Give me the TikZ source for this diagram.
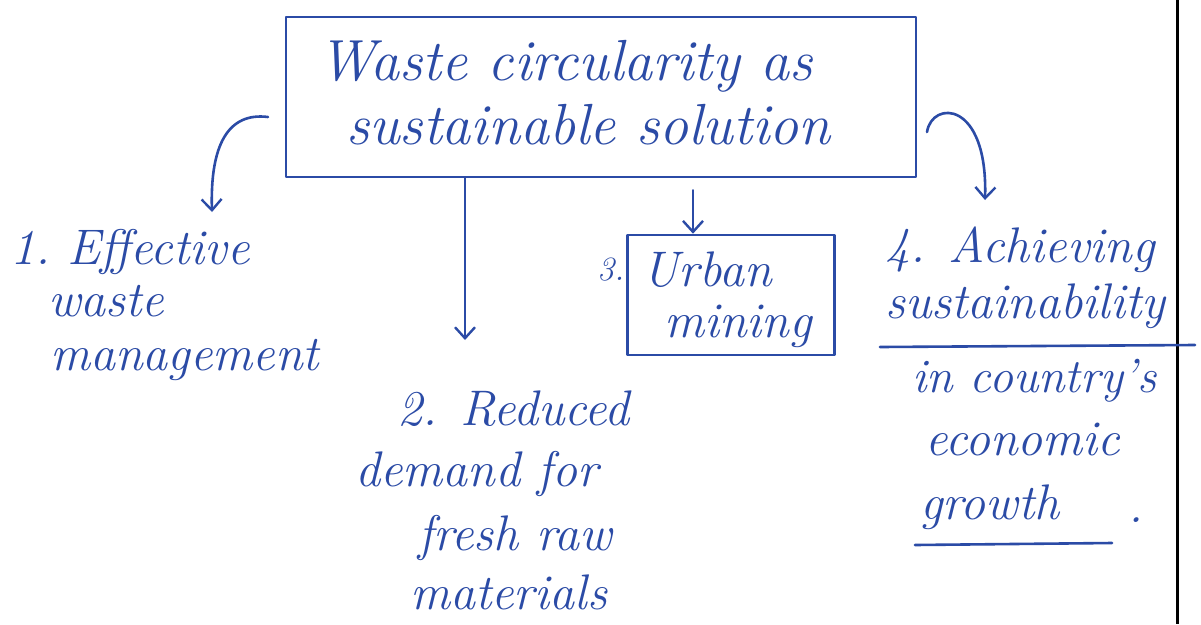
\documentclass[tikz,border=0pt]{standalone}
\usetikzlibrary{arrows.meta,calc}
\definecolor{ink}{HTML}{2B4BA6}
\tikzset{
  inkline/.style={draw=ink,line width=2.6pt,line cap=round,line join=round},
  inkarrow/.style={inkline,-{Straight Barb[length=11pt,width=20pt,line width=2.4pt]}},
  hand/.style={text=ink,inner sep=0pt,anchor=base west,font=\fontsize{50}{60}\selectfont\itshape},
  handbig/.style={text=ink,inner sep=0pt,anchor=base west,font=\fontsize{58}{68}\selectfont\itshape},
}
\begin{document}
\begin{tikzpicture}[x=1pt,y=-1pt]
\useasboundingbox (0,0) rectangle (1201,624);
\fill[white] (0,0) rectangle (1201,624);
% page margin line
\draw[black,line width=3pt] (1177,0) -- (1177,624);
% title box
\node[inkline,minimum width=630pt,minimum height=160pt,inner sep=0pt] (title) at (601,97) {};
\node[handbig] (t1) at (318,80) {Waste circularity as};
\node[handbig] (t2) at (346,144) {sustainable solution};
% item 1
\node[hand] (i1a) at (10,264) {1.\ Effective};
\node[hand] (i1b) at (48,316) {waste};
\node[hand] (i1c) at (50,370) {management};
% item 2
\node[hand] (i2a) at (397,425) {2. Reduced};
\node[hand] (i2b) at (355,486) {demand for};
\node[hand] (i2c) at (418,550) {fresh raw};
\node[hand] (i2d) at (410,609) {materials};
% item 3
\node[inkline,minimum width=207pt,minimum height=120pt,inner sep=0pt] (urban) at (731,295) {};
\node[hand] (i3a) at (642,286) {Urban};
\node[hand] (i3b) at (664,337) {mining};
\node[hand,font=\fontsize{34}{40}\selectfont\itshape] (n3) at (597,280) {3.};
% item 4
\node[hand] (i4a) at (885,262) {4. Achieving};
\node[hand] (i4b) at (885,318) {sustainability};
\node[hand,font=\fontsize{48}{58}\selectfont\itshape] (i4c) at (912,392) {in country's};
\node[hand] (i4d) at (925,455) {economic};
\node[hand] (i4e) at (920,519) {growth};
\node[hand] (i4f) at (1128,522) {.};
% underlines
\draw[inkline] (880,347) -- (1195,345);
\draw[inkline] (915,545) -- (1112,543);
% connectors
\coordinate (aLeft) at (268,117);
\coordinate (aTwo) at (465,0);
\coordinate (aThree) at (693,0);
\coordinate (aRight) at (927,132);
\coordinate (e1) at (212,212);
\coordinate (e2) at (465,340);
\coordinate (e4) at (985,200);
\draw[inkarrow] (aLeft) .. controls (228,112) and (210,145) .. (e1);
\draw[inkarrow] (title.south -| aTwo) -- (e2);
\draw[inkarrow] ($(title.south -| aThree)+(0,12)$) -- (urban.north -| aThree);
\draw[inkarrow] (aRight) .. controls (932,100) and (988,100) .. (e4);
\end{tikzpicture}
\end{document}
